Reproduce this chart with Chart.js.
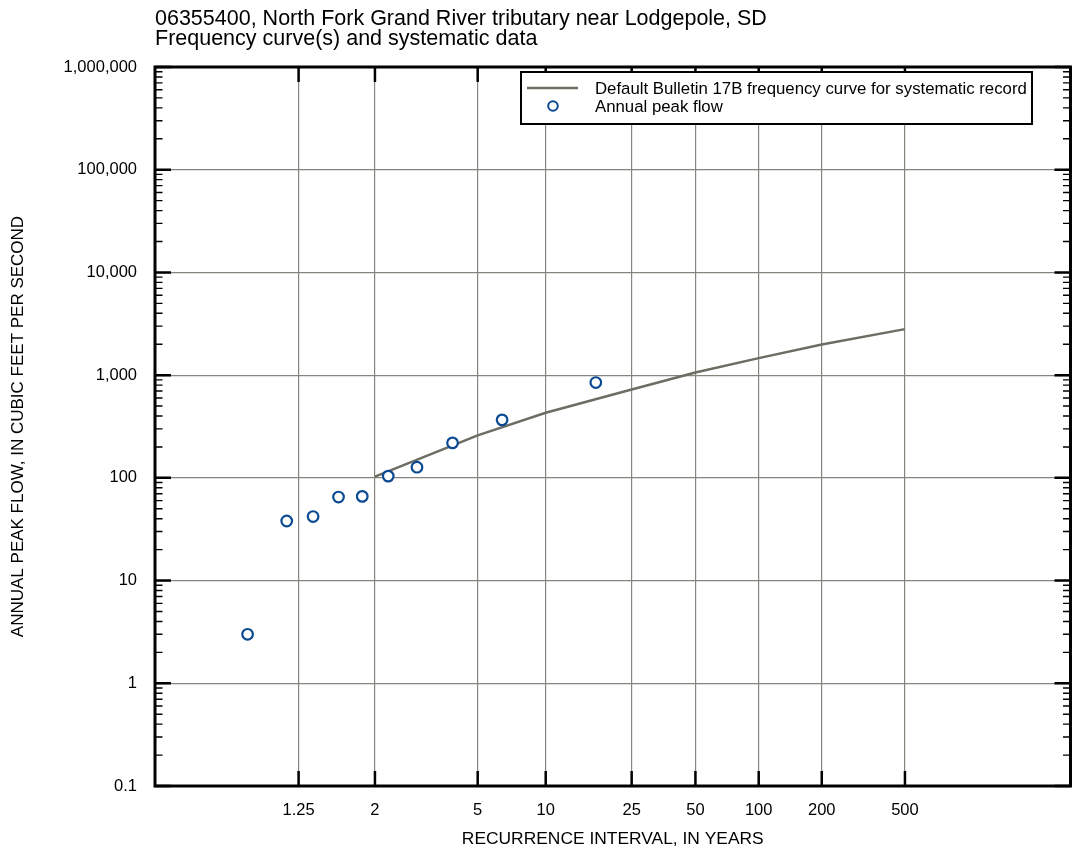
<!DOCTYPE html>
<html lang="en">
<head>
<meta charset="UTF-8">
<title>Frequency curve - 06355400</title>
<script src="https://cdn.jsdelivr.net/npm/chart.js"></script>
<style>
  html, body { margin: 0; padding: 0; background: #fff; }
  #wrap { width: 1078px; height: 855px; }
</style>
</head>
<body>
<div id="wrap"><canvas id="freqChart"></canvas></div>
<script>
// x axis ticks (recurrence interval, years)
const tickYears = [1.25, 2, 5, 10, 25, 50, 100, 200, 500];
const tickLabels = ['1.25', '2', '5', '10', '25', '50', '100', '200', '500'];

// y axis ticks (cfs)
const flowTicks = [0.1, 1, 10, 100, 1000, 10000, 100000, 1000000];
const flowLabels = ['0.1', '1', '10', '100', '1,000', '10,000', '100,000', '1,000,000'];

// Bulletin 17B frequency curve
const curveYears = [2, 5, 10, 25, 50, 100, 200, 500];
const curveFlow = [103, 259, 430, 726, 1062, 1465, 1991, 2805];

// annual peaks at their plotting positions
const peakYears = [17.0, 6.38, 3.92, 2.83, 2.22, 1.82, 1.55, 1.34, 1.19, 1.063];
const peakFlow = [847, 367, 219, 127, 104, 66, 65, 42, 38, 3.0];

const FONT = "'Liberation Sans', Arial, sans-serif";
const CURVE_COLOR = '#6d6d63';
const PEAK_COLOR = '#0b4a92';

// probability paper: gumbel reduced variate of the non-exceedance prob.
const gumbel = t => -Math.log(-Math.log(1 - 1 / t));

const frame = {
  id: 'frame',
  afterDatasetsDraw(chart) {
    const { ctx, chartArea: a, scales } = chart;
    const xs = scales.x, ys = scales.y;
    ctx.save();
    ctx.strokeStyle = '#000';
    ctx.lineCap = 'butt';

    // y ticks, inward on both sides
    flowTicks.forEach((v, i) => {
      const py = ys.getPixelForValue(v);
      ctx.lineWidth = 2.5;
      ctx.beginPath();
      ctx.moveTo(a.left, py); ctx.lineTo(a.left + 16, py);
      ctx.moveTo(a.right, py); ctx.lineTo(a.right - 16, py);
      ctx.stroke();
      if (i < flowTicks.length - 1) {
        ctx.lineWidth = 1.4;
        ctx.beginPath();
        for (let m = 2; m <= 9; m++) {
          const p = ys.getPixelForValue(v * m);
          ctx.moveTo(a.left, p); ctx.lineTo(a.left + 7.5, p);
          ctx.moveTo(a.right, p); ctx.lineTo(a.right - 7.5, p);
        }
        ctx.stroke();
      }
    });

    // x ticks, inward top and bottom
    ctx.lineWidth = 2.5;
    ctx.beginPath();
    tickYears.forEach(t => {
      const px = xs.getPixelForValue(gumbel(t));
      ctx.moveTo(px, a.bottom); ctx.lineTo(px, a.bottom - 15);
      ctx.moveTo(px, a.top); ctx.lineTo(px, a.top + 15);
    });
    ctx.stroke();

    // plot frame
    ctx.lineWidth = 3;
    ctx.strokeRect(a.left, a.top, a.right - a.left, a.bottom - a.top);

    // legend
    ctx.fillStyle = '#fff';
    ctx.fillRect(521, 72, 511, 52);
    ctx.lineWidth = 2;
    ctx.strokeRect(521, 72, 511, 52);
    ctx.strokeStyle = CURVE_COLOR;
    ctx.lineWidth = 2.5;
    ctx.beginPath();
    ctx.moveTo(527, 88); ctx.lineTo(578, 88);
    ctx.stroke();
    ctx.strokeStyle = PEAK_COLOR;
    ctx.lineWidth = 2;
    ctx.beginPath();
    ctx.arc(553, 106, 4.8, 0, Math.PI * 2);
    ctx.stroke();
    ctx.fillStyle = '#000';
    ctx.font = '16.8px ' + FONT;
    ctx.textBaseline = 'middle';
    ctx.textAlign = 'left';
    ctx.fillText('Default Bulletin 17B frequency curve for systematic record', 595, 89);
    ctx.fillText('Annual peak flow', 595, 107);

    // title
    ctx.font = '21.5px ' + FONT;
    ctx.textBaseline = 'alphabetic';
    ctx.fillText('06355400, North Fork Grand River tributary near Lodgepole, SD', 155, 25);
    ctx.fillText('Frequency curve(s) and systematic data', 155, 45);
    ctx.restore();
  }
};

const ctx = document.getElementById('freqChart').getContext('2d');
new Chart(ctx, {
  type: 'line',
  data: {
    datasets: [
      {
        label: 'Annual peak flow',
        data: peakYears.map((t, i) => ({ x: gumbel(t), y: peakFlow[i] })),
        showLine: false,
        pointStyle: 'circle',
        pointRadius: 5.3,
        pointBorderWidth: 2.2,
        borderColor: PEAK_COLOR,
        backgroundColor: '#fff',
        order: 0
      },
      {
        label: 'Default Bulletin 17B frequency curve for systematic record',
        data: curveYears.map((t, i) => ({ x: gumbel(t), y: curveFlow[i] })),
        borderColor: CURVE_COLOR,
        borderWidth: 2.5,
        pointRadius: 0,
        tension: 0,
        fill: false,
        order: 1
      }
    ]
  },
  options: {
    responsive: true,
    maintainAspectRatio: false,
    animation: false,
    layout: { padding: { top: 67, right: 5, left: 0, bottom: 0 } },
    plugins: {
      legend: { display: false },
      tooltip: { enabled: false }
    },
    scales: {
      x: {
        type: 'linear',
        min: -2.06,
        max: 8.04,
        afterBuildTicks: s => { s.ticks = tickYears.map(t => ({ value: gumbel(t) })); },
        afterFit: s => { s.height = 69; },
        ticks: {
          autoSkip: false,
          maxRotation: 0,
          padding: 15,
          color: '#000',
          font: { family: FONT, size: 16.5 },
          callback: (v, i) => tickLabels[i]
        },
        grid: { color: '#85857d', lineWidth: 1.2, drawTicks: false },
        border: { display: false },
        title: {
          display: true,
          text: 'RECURRENCE INTERVAL, IN YEARS',
          color: '#000',
          font: { family: FONT, size: 17.4 },
          padding: { top: 5, bottom: 5 }
        }
      },
      y: {
        type: 'logarithmic',
        min: 0.1,
        max: 1000000,
        afterBuildTicks: s => { s.ticks = flowTicks.map(v => ({ value: v })); },
        afterFit: s => { s.width = 155; },
        ticks: {
          autoSkip: false,
          padding: 18,
          color: '#000',
          font: { family: FONT, size: 16.5 },
          callback: (v, i) => flowLabels[i]
        },
        grid: { color: '#85857d', lineWidth: 1.2, drawTicks: false },
        border: { display: false },
        title: {
          display: true,
          text: 'ANNUAL PEAK FLOW, IN CUBIC FEET PER SECOND',
          color: '#000',
          font: { family: FONT, size: 17 },
          padding: { top: 8, bottom: 8 }
        }
      }
    }
  },
  plugins: [frame]
});
</script>
</body>
</html>
